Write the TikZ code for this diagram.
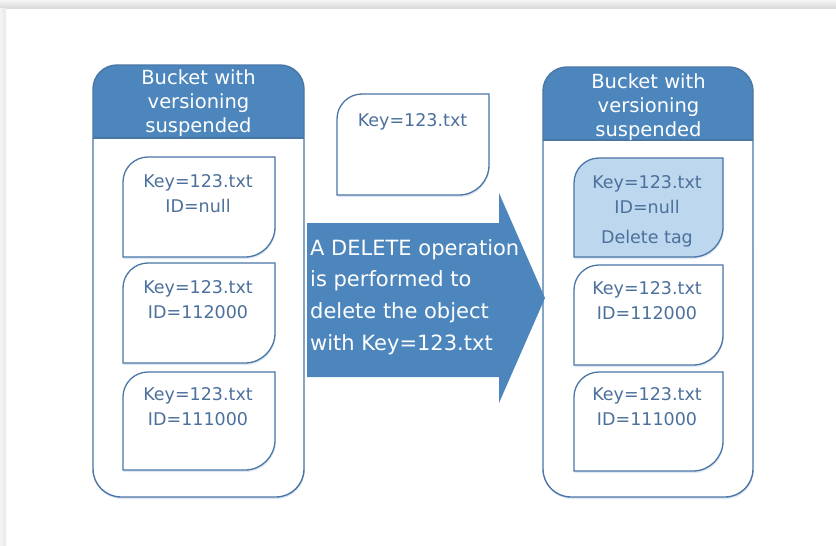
\documentclass[tikz,border=0pt]{standalone}
\usepackage{fontspec}
\setmainfont{DejaVu Sans}
\usetikzlibrary{shadows}
\definecolor{hdrblue}{RGB}{76,134,189}
\definecolor{edgeblue}{RGB}{74,118,166}
\definecolor{txtblue}{RGB}{76,112,156}
\definecolor{tagfill}{RGB}{189,215,238}
\definecolor{rimlight}{RGB}{244,244,244}
\definecolor{rimdark}{RGB}{218,218,218}
\definecolor{glow}{RGB}{150,180,215}

\tikzset{
  softshadow/.style={drop shadow={shadow xshift=0.6pt, shadow yshift=-2pt, opacity=0.3, fill=glow}},
  bucketedge/.style={draw=edgeblue, line width=1.4pt},
  docedge/.style={draw=edgeblue, line width=1.3pt, fill=white, softshadow},
  tagedge/.style={draw=edgeblue, line width=1.3pt, fill=tagfill, softshadow},
  doctext/.style={text=txtblue, font=\fontsize{17.5}{25}\selectfont, align=center, inner sep=0pt, anchor=north},
  hdrtext/.style={text=white, font=\fontsize{19.5}{24}\selectfont, align=center, inner sep=0pt, anchor=north},
  optext/.style={text=white, font=\fontsize{21}{31.7}\selectfont, align=left, inner sep=0pt, anchor=north west},
}

% bucket: x1 y1 x2 y2 header-bottom (y grows downwards)
\newcommand\bucketshape[5]{%
  \fill[glow, opacity=0.3] (#1,{#2+26}) -- (#3,{#2+26})
    -- ({#3+0.6},{#4-26}) arc[start angle=0,end angle=90,radius=28]
    -- ({#1+28.6},{#4+2}) arc[start angle=90,end angle=180,radius=28] -- cycle;
  \fill[white] (#1,{#2+24}) arc[start angle=180,end angle=270,radius=24]
    -- ({#3-24},#2) arc[start angle=270,end angle=360,radius=24]
    -- (#3,{#4-28}) arc[start angle=0,end angle=90,radius=28]
    -- ({#1+28},#4) arc[start angle=90,end angle=180,radius=28] -- cycle;
  \fill[hdrblue] (#1,#5) -- (#1,{#2+24}) arc[start angle=180,end angle=270,radius=24]
    -- ({#3-24},#2) arc[start angle=270,end angle=360,radius=24] -- (#3,#5) -- cycle;
  \draw[bucketedge] (#1,{#2+24}) arc[start angle=180,end angle=270,radius=24]
    -- ({#3-24},#2) arc[start angle=270,end angle=360,radius=24]
    -- (#3,{#4-28}) arc[start angle=0,end angle=90,radius=28]
    -- ({#1+28},#4) arc[start angle=90,end angle=180,radius=28] -- cycle;
  \draw[bucketedge] (#1,#5) -- (#3,#5);
}

% object card: style x1 y1 x2 y2, rounded top-left and bottom-right corners
\newcommand\docshape[5]{%
  \path[#1] (#2,#5) -- (#2,{#3+25}) arc[start angle=180,end angle=270,radius=25]
    -- (#4,#3) -- (#4,{#5-30}) arc[start angle=0,end angle=90,radius=30] -- cycle;
}

\begin{document}
\begin{tikzpicture}[x=1pt,y=-1pt]
\useasboundingbox (0,0) rectangle (836,546);

% page rim
\fill[white] (0,0) rectangle (836,546);
\shade[top color=rimlight, bottom color=rimdark] (0,0) rectangle (836,8);
\shade[left color=rimlight, right color=rimdark!60!white] (0,8) rectangle (6,546);

% left bucket
\bucketshape{93}{65}{304}{497}{138}
\node[hdrtext] (lhead) at (198.5,69) {Bucket with\\versioning\\suspended};
\docshape{docedge}{123}{157}{275}{257}
\node[doctext] (lnull) at (198,174) {Key=123.txt\\ID=null};
\docshape{docedge}{123}{263}{275}{363}
\node[doctext] (lv2) at (198,280) {Key=123.txt\\ID=112000};
\docshape{docedge}{123}{372}{275}{470}
\node[doctext] (lv1) at (198,387) {Key=123.txt\\ID=111000};

% object to delete
\docshape{docedge}{337}{94}{489}{195}
\node[doctext] (req) at (412.5,113) {Key=123.txt};

% right bucket
\bucketshape{543}{67}{753}{497}{140}
\node[hdrtext] (rhead) at (648.5,73) {Bucket with\\versioning\\suspended};
\docshape{tagedge}{574}{158}{723}{257}
\node[doctext] (rtag) at (647,175) {Key=123.txt\\ID=null\\[5pt]Delete tag};
\docshape{docedge}{574}{265}{723}{365}
\node[doctext] (rv2) at (647,281) {Key=123.txt\\ID=112000};
\docshape{docedge}{574}{372}{723}{471}
\node[doctext] (rv1) at (647,387) {Key=123.txt\\ID=111000};

% operation arrow
\fill[hdrblue] (307,223) -- (499,223) -- (499,193) -- (545,298)
  -- (499,403) -- (499,377) -- (307,377) -- cycle;
\node[optext] (op) at (310,239) {A DELETE operation\\is performed to\\delete the object\\with Key=123.txt};
\end{tikzpicture}
\end{document}
